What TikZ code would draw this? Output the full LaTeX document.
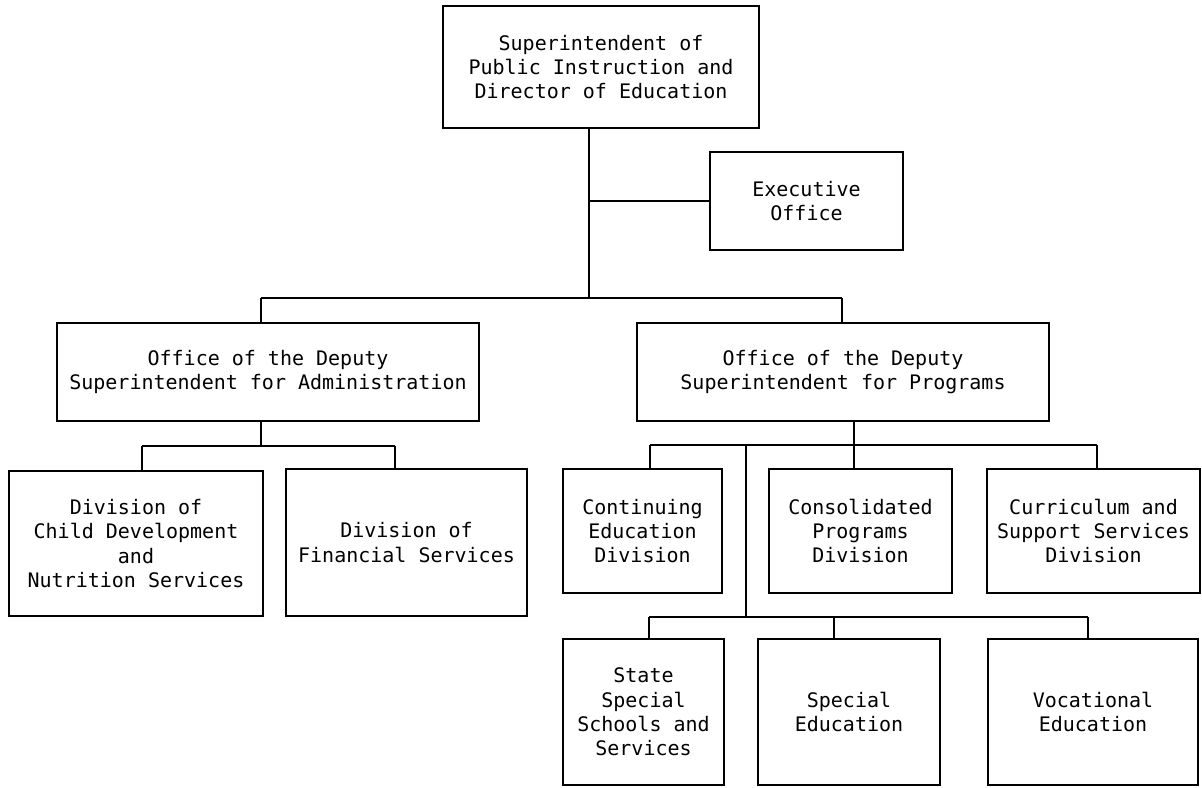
\documentclass[tikz,border=0pt]{standalone}
\usepackage{fontspec}
\newfontfamily\orgfont{DejaVu Sans Mono}
\usetikzlibrary{positioning,calc}
\tikzstyle{Box} = [draw, shape = rectangle, line width=1.1pt, inner sep=0pt, align=center]
\tikzstyle{Line} = [draw, line width=1.1pt]

\begin{document}
\begin{tikzpicture}[x=0.5pt,y=0.5pt]
        \tikzstyle{every node} = [font=\orgfont\fontsize{10pt}{12.2pt}\selectfont]
        \useasboundingbox (0,0) rectangle (1202,-787);

        %%%%% Top Line %%%%%%

        \draw node[Box, minimum width=158pt, minimum height=61pt] at (601,-67) (Supt) {Superintendent of\\Public Instruction and\\Director of Education};
        \draw node[Box, minimum width=96.5pt, minimum height=49pt] at ($(Supt) + (205.5,-134)$) (Exec) {Executive\\Office};

        %%%%% Deputy Line %%%%%

        \draw node[Box, minimum width=211pt, minimum height=49pt] at ($(Supt) + (-333,-305)$) (Admin) {Office of the Deputy\\Superintendent for Administration};
        \draw node[Box, minimum width=206pt, minimum height=49pt] at ($(Admin) + (575,0)$) (Prog) {Office of the Deputy\\Superintendent for Programs};

        %%%%% Division Line %%%%%

        \draw node[Box, minimum width=127pt, minimum height=72.5pt] at ($(Admin) + (-132,-171.5)$) (Child) {Division of\\Child Development\\and\\Nutrition Services};
        \draw node[Box, minimum width=120.5pt, minimum height=73.5pt] at ($(Child) + (270.5,1)$) (Fin) {Division of\\Financial Services};
        \draw node[Box, minimum width=79.5pt, minimum height=62pt] at ($(Prog) + (-200.5,-159)$) (Cont) {Continuing\\Education\\Division};
        \draw node[Box, minimum width=91.5pt, minimum height=62pt] at ($(Cont) + (218,0)$) (Cons) {Consolidated\\Programs\\Division};
        \draw node[Box, minimum width=106.5pt, minimum height=62pt] at ($(Cons) + (233,0)$) (Curr) {Curriculum and\\Support Services\\Division};

        %%%%% Bottom Line %%%%%

        \draw node[Box, minimum width=80.5pt, minimum height=73pt] at ($(Cont) + (1,-181)$) (State) {State\\Special\\Schools and\\Services};
        \draw node[Box, minimum width=91pt, minimum height=73pt] at ($(State) + (205.5,0)$) (SpEd) {Special\\Education};
        \draw node[Box, minimum width=105pt, minimum height=73pt] at ($(SpEd) + (244,0)$) (Voc) {Vocational\\Education};

        %%%%% Connecting Lines %%%%%

        \coordinate (trunk) at ($(Supt.south) + (-12,0)$);
        \coordinate (busL) at (261,-298);
        \coordinate (busR) at (842,-298);
        \draw [Line] (trunk) -- (trunk |- busL);
        \draw [Line] (trunk |- Exec.west) -- (Exec.west);
        \draw [Line] (busL) -- (busR);
        \draw [Line] (busL) -- (busL |- Admin.north);
        \draw [Line] (busR) -- (busR |- Prog.north);

        \coordinate (adm) at (261,-446);
        \draw [Line] (adm |- Admin.south) -- (adm);
        \draw [Line] (142,-446) coordinate (admL) -- (395,-446) coordinate (admR);
        \draw [Line] (admL) -- (admL |- Child.north);
        \draw [Line] (admR) -- (admR |- Fin.north);

        \coordinate (prg) at (854,-445);
        \draw [Line] (prg |- Prog.south) -- (prg |- Cons.north);
        \draw [Line] (650,-445) coordinate (prgL) -- (1097,-445) coordinate (prgR);
        \draw [Line] (prgL) -- (prgL |- Cont.north);
        \draw [Line] (prgR) -- (prgR |- Curr.north);

        \coordinate (low) at (746,-617);
        \draw [Line] (low |- prg) -- (low);
        \draw [Line] (649,-617) coordinate (lowL) -- (1088,-617) coordinate (lowR);
        \draw [Line] (lowL) -- (lowL |- State.north);
        \draw [Line] (834,-617) coordinate (lowM) -- (lowM |- SpEd.north);
        \draw [Line] (lowR) -- (lowR |- Voc.north);

\end{tikzpicture}
\end{document}
